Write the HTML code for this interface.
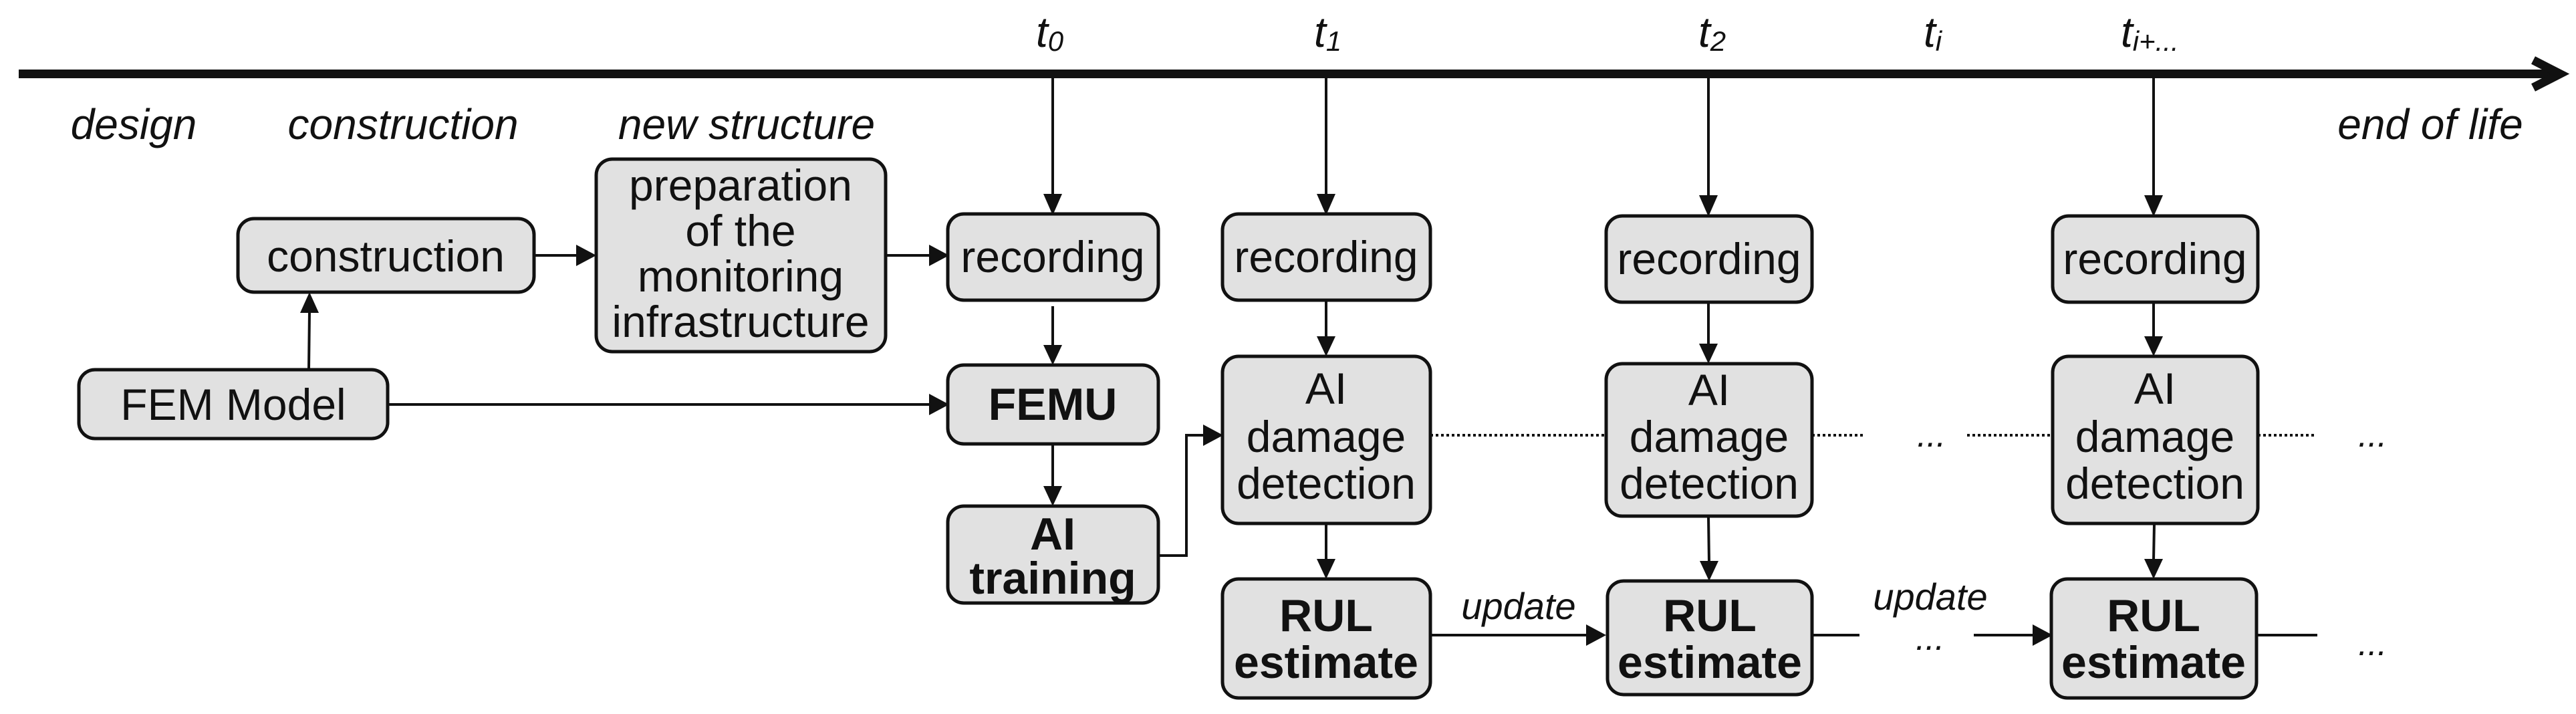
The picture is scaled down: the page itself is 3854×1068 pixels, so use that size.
<!DOCTYPE html>
<html><head><meta charset="utf-8"><style>
html,body{margin:0;padding:0;background:#fff;}
svg{display:block;}
text{font-family:"Liberation Sans",Arial,sans-serif;fill:#111;}
.it{font-style:italic;font-size:64px;}
.bx{fill:#e1e1e1;stroke:#111;stroke-width:5;}
.ln{stroke:#111;stroke-width:4;fill:none;}
.t{font-size:66px;text-anchor:middle;}
.b{font-weight:bold;font-size:68px;}
.dot{stroke:#111;stroke-width:4;stroke-dasharray:4 4;fill:none;}
</style></head><body>
<svg width="3854" height="1068" viewBox="0 0 3854 1068" xmlns="http://www.w3.org/2000/svg">
<rect x="28" y="104" width="3790" height="13" fill="#111"/>
<polyline points="3790,90 3830,110.5 3790,131" fill="none" stroke="#111" stroke-width="13"/>
<g>
<text class="it" x="1550" y="70">t<tspan font-size="42" dy="6">0</tspan></text>
<text class="it" x="1966" y="70">t<tspan font-size="42" dy="6">1</tspan></text>
<text class="it" x="2541" y="70">t<tspan font-size="42" dy="6">2</tspan></text>
<text class="it" x="2878" y="70">t<tspan font-size="42" dy="6">i</tspan></text>
<text class="it" x="3173" y="70">t<tspan font-size="42" dy="6">i+...</tspan></text>
</g>
<text class="it" x="200" y="208" text-anchor="middle">design</text>
<text class="it" x="603" y="208" text-anchor="middle">construction</text>
<text class="it" x="1117" y="208" text-anchor="middle">new structure</text>
<text class="it" x="3636" y="208" text-anchor="middle">end of life</text>

<g fill="#111">
<line class="ln" x1="1575" y1="117" x2="1575" y2="292"/><polygon points="1561,290 1589,290 1575,322"/>
<line class="ln" x1="1984" y1="117" x2="1984" y2="292"/><polygon points="1970,290 1998,290 1984,322"/>
<line class="ln" x1="2556" y1="117" x2="2556" y2="294"/><polygon points="2542,292 2570,292 2556,324"/>
<line class="ln" x1="3222" y1="117" x2="3222" y2="294"/><polygon points="3208,292 3236,292 3222,324"/>
<line class="ln" x1="799" y1="382" x2="864" y2="382"/><polygon points="862,366 862,398 892,382"/>
<line class="ln" x1="1325" y1="382" x2="1392" y2="382"/><polygon points="1390,366 1390,398 1420,382"/>
<line class="ln" x1="462" y1="553" x2="463" y2="466"/><polygon points="449,468 477,468 463,437"/>
<line class="ln" x1="580" y1="605" x2="1392" y2="605"/><polygon points="1390,589 1390,621 1420,605"/>
<line class="ln" x1="1575" y1="458" x2="1575" y2="518"/><polygon points="1561,516 1589,516 1575,546"/>
<line class="ln" x1="1575" y1="664" x2="1575" y2="729"/><polygon points="1561,727 1589,727 1575,757"/>
<polyline class="ln" points="1733,831 1775,831 1775,651 1802,651"/><polygon points="1800,635 1800,667 1830,651"/>
<line class="ln" x1="1984" y1="449" x2="1984" y2="505"/><polygon points="1970,503 1998,503 1984,533"/>
<line class="ln" x1="1984" y1="783" x2="1984" y2="838"/><polygon points="1970,836 1998,836 1984,866"/>
<line class="ln" x1="2556" y1="452" x2="2556" y2="516"/><polygon points="2542,514 2570,514 2556,544"/>
<line class="ln" x1="2556" y1="772" x2="2557" y2="841"/><polygon points="2543,839 2571,839 2557,869"/>
<line class="ln" x1="3222" y1="452" x2="3222" y2="505"/><polygon points="3208,503 3236,503 3222,533"/>
<line class="ln" x1="3223" y1="783" x2="3222" y2="838"/><polygon points="3208,836 3236,836 3222,866"/>
<line class="ln" x1="2140" y1="950" x2="2375" y2="950"/><polygon points="2373,934 2373,966 2403,950"/>
<line class="ln" x1="2711" y1="950" x2="2782" y2="950"/>
<line class="ln" x1="2953" y1="950" x2="3043" y2="950"/><polygon points="3041,934 3041,966 3071,950"/>
<line class="ln" x1="3378" y1="950" x2="3467" y2="950"/>
</g>
<line class="dot" x1="2140" y1="651" x2="2403" y2="651"/>
<line class="dot" x1="2711" y1="651" x2="2787" y2="651"/>
<line class="dot" x1="2943" y1="651" x2="3071" y2="651"/>
<line class="dot" x1="3378" y1="651" x2="3465" y2="651"/>
<g>
<text class="it" x="2868" y="668" style="font-size:52px">...</text>
<text class="it" x="3528" y="668" style="font-size:52px">...</text>
<text class="it" x="2866" y="972" style="font-size:52px">...</text>
<text class="it" x="3528" y="980" style="font-size:52px">...</text>
<text class="it" x="2272" y="926" text-anchor="middle" style="font-size:56px">update</text>
<text class="it" x="2888" y="912" text-anchor="middle" style="font-size:56px">update</text>
</g>

<rect class="bx" x="356" y="327" width="443" height="110" rx="24"/>
<text class="t" x="577" y="406">construction</text>
<rect class="bx" x="892" y="238" width="433" height="288" rx="24"/>
<text class="t" x="1108" y="300">preparation</text>
<text class="t" x="1108" y="368">of the</text>
<text class="t" x="1108" y="436">monitoring</text>
<text class="t" x="1108" y="504">infrastructure</text>
<rect class="bx" x="1418" y="320" width="315" height="129" rx="24"/>
<text class="t" x="1575" y="407">recording</text>
<rect class="bx" x="118" y="553" width="462" height="103" rx="24"/>
<text class="t" x="349" y="628">FEM Model</text>
<rect class="bx" x="1418" y="546" width="315" height="118" rx="24"/>
<text class="t b" x="1575" y="628">FEMU</text>
<rect class="bx" x="1418" y="757" width="315" height="145" rx="24"/>
<text class="t b" x="1575" y="822">AI</text>
<text class="t b" x="1575" y="888">training</text>

<rect class="bx" x="1829" y="320" width="311" height="129" rx="24"/>
<text class="t" x="1984" y="407">recording</text>
<rect class="bx" x="1829" y="533" width="311" height="250" rx="24"/>
<text class="t" x="1984" y="604">AI</text>
<text class="t" x="1984" y="676">damage</text>
<text class="t" x="1984" y="746">detection</text>
<rect class="bx" x="1829" y="866" width="311" height="178" rx="24"/>
<text class="t b" x="1984" y="944">RUL</text>
<text class="t b" x="1984" y="1014">estimate</text>

<rect class="bx" x="2403" y="323" width="308" height="129" rx="24"/>
<text class="t" x="2557" y="410">recording</text>
<rect class="bx" x="2403" y="544" width="308" height="228" rx="24"/>
<text class="t" x="2557" y="606">AI</text>
<text class="t" x="2557" y="676">damage</text>
<text class="t" x="2557" y="746">detection</text>
<rect class="bx" x="2405" y="869" width="306" height="170" rx="24"/>
<text class="t b" x="2558" y="944">RUL</text>
<text class="t b" x="2558" y="1014">estimate</text>

<rect class="bx" x="3071" y="323" width="307" height="129" rx="24"/>
<text class="t" x="3224" y="410">recording</text>
<rect class="bx" x="3071" y="533" width="307" height="250" rx="24"/>
<text class="t" x="3224" y="604">AI</text>
<text class="t" x="3224" y="676">damage</text>
<text class="t" x="3224" y="746">detection</text>
<rect class="bx" x="3069" y="866" width="307" height="178" rx="24"/>
<text class="t b" x="3222" y="944">RUL</text>
<text class="t b" x="3222" y="1014">estimate</text>
</svg>
</body></html>
